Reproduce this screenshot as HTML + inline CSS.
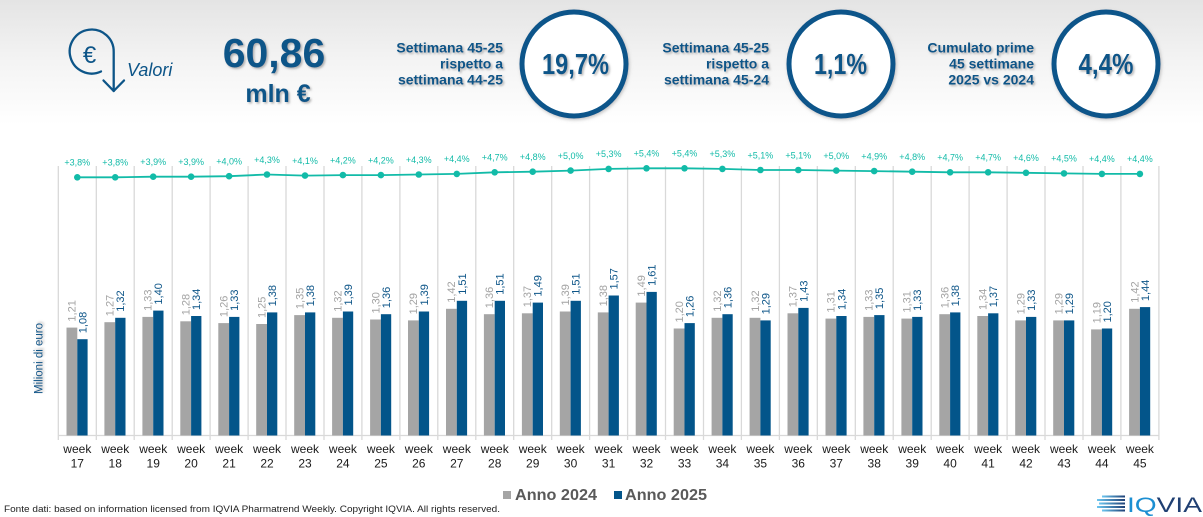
<!DOCTYPE html>
<html><head><meta charset="utf-8"><style>
html,body{margin:0;padding:0;background:#fff;}
svg{display:block;}
text{font-family:"Liberation Sans",Arial,sans-serif;}
.pc{font-size:9px;fill:#12bba8;text-anchor:middle;}
.wk{font-size:12px;fill:#1a1a1a;text-anchor:middle;}
.lg{font-size:11px;fill:#a3a3a3;}
.lb{font-size:11px;fill:#0d5588;}
.g{fill:#a5a5a5;}
.b{fill:#03558a;}
.hd{font-size:14px;font-weight:bold;fill:#0d5588;text-anchor:end;}
.big{font-weight:bold;fill:#0d5588;text-anchor:middle;}
</style></head><body>
<svg width="1203" height="517" viewBox="0 0 1203 517" xmlns="http://www.w3.org/2000/svg">
<defs>
<linearGradient id="bg" x1="0" y1="0" x2="0" y2="1">
<stop offset="0" stop-color="#e4e4e4"/><stop offset="0.5" stop-color="#f4f4f4"/><stop offset="1" stop-color="#ffffff"/>
</linearGradient>
<linearGradient id="lg1" x1="0" y1="0" x2="1" y2="0">
<stop offset="0" stop-color="#6cc6f0"/><stop offset="1" stop-color="#1d3f75"/>
</linearGradient>
<filter id="sh" x="-10%" y="-20%" width="130%" height="150%">
<feDropShadow dx="1.5" dy="1.5" stdDeviation="1" flood-color="#777" flood-opacity="0.55"/>
</filter>
<filter id="csh" x="-10%" y="-10%" width="130%" height="130%">
<feDropShadow dx="1" dy="1.5" stdDeviation="1.5" flood-color="#888" flood-opacity="0.5"/>
</filter>
</defs>
<rect x="0" y="0" width="1203" height="125" fill="url(#bg)"/>

<!-- Euro icon -->
<g fill="none" stroke="#0d5588" stroke-width="2.3" stroke-linecap="round" stroke-linejoin="round">
<path d="M113.7,91 L113.7,52 A22,22 0 1,0 101,71.5"/>
<path d="M103.5,80.5 L113.7,91 L124,80.5"/>
</g>
<text x="89.5" y="63" font-size="24" fill="#0d5588" text-anchor="middle">€</text>
<text x="127" y="76" font-size="18" font-style="italic" fill="#0d5588">Valori</text>

<!-- Big number -->
<g filter="url(#sh)">
<text class="big" x="274" y="67" font-size="41">60,86</text>
<text class="big" x="278" y="102" font-size="25">mln €</text>
</g>

<!-- Header blocks -->
<g filter="url(#sh)">
<text class="hd" x="503" y="52.5">Settimana 45-25</text>
<text class="hd" x="503" y="68.5">rispetto a</text>
<text class="hd" x="503" y="84.5">settimana 44-25</text>
<text class="hd" x="769" y="52.5">Settimana 45-25</text>
<text class="hd" x="769" y="68.5">rispetto a</text>
<text class="hd" x="769" y="84.5">settimana 45-24</text>
<text class="hd" x="1034" y="52.5">Cumulato prime</text>
<text class="hd" x="1034" y="68.5">45 settimane</text>
<text class="hd" x="1034" y="84.5">2025 vs 2024</text>
</g>

<!-- Circles -->
<g filter="url(#csh)" fill="#fff" stroke="#07548a" stroke-width="5">
<circle cx="574" cy="64" r="52"/>
<circle cx="841" cy="64" r="52"/>
<circle cx="1106" cy="64" r="52"/>
</g>
<g filter="url(#sh)">
<text class="big" x="575.5" y="74" font-size="29" textLength="67" lengthAdjust="spacingAndGlyphs">19,7%</text>
<text class="big" x="840.5" y="74" font-size="29" textLength="53" lengthAdjust="spacingAndGlyphs">1,1%</text>
<text class="big" x="1106" y="74" font-size="29" textLength="55" lengthAdjust="spacingAndGlyphs">4,4%</text>
</g>

<!-- Gridlines -->
<g stroke="#d9d9d9" stroke-width="1.3">
<line x1="58.3" y1="166" x2="58.3" y2="440"/>
<line x1="96.3" y1="166" x2="96.3" y2="440"/>
<line x1="134.2" y1="166" x2="134.2" y2="440"/>
<line x1="172.2" y1="166" x2="172.2" y2="440"/>
<line x1="210.1" y1="166" x2="210.1" y2="440"/>
<line x1="248.1" y1="166" x2="248.1" y2="440"/>
<line x1="286" y1="166" x2="286" y2="440"/>
<line x1="324" y1="166" x2="324" y2="440"/>
<line x1="361.9" y1="166" x2="361.9" y2="440"/>
<line x1="399.9" y1="166" x2="399.9" y2="440"/>
<line x1="437.8" y1="166" x2="437.8" y2="440"/>
<line x1="475.8" y1="166" x2="475.8" y2="440"/>
<line x1="513.7" y1="166" x2="513.7" y2="440"/>
<line x1="551.7" y1="166" x2="551.7" y2="440"/>
<line x1="589.6" y1="166" x2="589.6" y2="440"/>
<line x1="627.6" y1="166" x2="627.6" y2="440"/>
<line x1="665.5" y1="166" x2="665.5" y2="440"/>
<line x1="703.5" y1="166" x2="703.5" y2="440"/>
<line x1="741.4" y1="166" x2="741.4" y2="440"/>
<line x1="779.4" y1="166" x2="779.4" y2="440"/>
<line x1="817.3" y1="166" x2="817.3" y2="440"/>
<line x1="855.3" y1="166" x2="855.3" y2="440"/>
<line x1="893.2" y1="166" x2="893.2" y2="440"/>
<line x1="931.2" y1="166" x2="931.2" y2="440"/>
<line x1="969.1" y1="166" x2="969.1" y2="440"/>
<line x1="1007.1" y1="166" x2="1007.1" y2="440"/>
<line x1="1045" y1="166" x2="1045" y2="440"/>
<line x1="1083" y1="166" x2="1083" y2="440"/>
<line x1="1120.9" y1="166" x2="1120.9" y2="440"/>
<line x1="1158.9" y1="166" x2="1158.9" y2="440"/>
<line x1="58.3" y1="435.5" x2="1158.9" y2="435.5"/>
</g>

<!-- Line series -->
<polyline fill="none" stroke="#12bba8" stroke-width="1.8" points="77.3,177.3 115.2,177.3 153.2,176.7 191.1,176.7 229.1,176.2 267,174.5 305,175.6 342.9,175.1 380.9,175.1 418.8,174.5 456.8,173.9 494.7,172.3 532.7,171.7 570.6,170.6 608.6,168.9 646.5,168.3 684.5,168.3 722.4,168.9 760.4,170 798.3,170 836.3,170.6 874.2,171.1 912.2,171.7 950.1,172.3 988.1,172.3 1026,172.8 1064,173.4 1101.9,173.9 1139.9,173.9"/>

<!-- Y axis title -->
<text transform="translate(42.5,358.5) rotate(-90)" font-size="11.5" fill="#0d5588" text-anchor="middle" filter="url(#sh)">Milioni di euro</text>

<!-- Categories -->
<g transform="translate(77.3,0)">
<rect class="g" x="-10.8" y="327.6" width="10.8" height="107.9"/><rect class="b" x="0" y="339.2" width="10.3" height="96.3"/>
<text class="lg" transform="translate(-1.6,321.6) rotate(-90)">1,21</text><text class="lb" transform="translate(9,333.2) rotate(-90)">1,08</text>
<circle cx="0" cy="177.3" r="3.3" fill="#12bba8"/><text class="pc" x="0" y="165.6">+3,8%</text>
<text class="wk" x="0" y="453">week</text><text class="wk" x="0" y="467.5">17</text>
</g>
<g transform="translate(115.2,0)">
<rect class="g" x="-10.8" y="322.2" width="10.8" height="113.3"/><rect class="b" x="0" y="317.8" width="10.3" height="117.7"/>
<text class="lg" transform="translate(-1.6,316.2) rotate(-90)">1,27</text><text class="lb" transform="translate(9,311.8) rotate(-90)">1,32</text>
<circle cx="0" cy="177.3" r="3.3" fill="#12bba8"/><text class="pc" x="0" y="165.6">+3,8%</text>
<text class="wk" x="0" y="453">week</text><text class="wk" x="0" y="467.5">18</text>
</g>
<g transform="translate(153.2,0)">
<rect class="g" x="-10.8" y="316.9" width="10.8" height="118.6"/><rect class="b" x="0" y="310.6" width="10.3" height="124.9"/>
<text class="lg" transform="translate(-1.6,310.9) rotate(-90)">1,33</text><text class="lb" transform="translate(9,304.6) rotate(-90)">1,40</text>
<circle cx="0" cy="176.7" r="3.3" fill="#12bba8"/><text class="pc" x="0" y="165">+3,9%</text>
<text class="wk" x="0" y="453">week</text><text class="wk" x="0" y="467.5">19</text>
</g>
<g transform="translate(191.1,0)">
<rect class="g" x="-10.8" y="321.3" width="10.8" height="114.2"/><rect class="b" x="0" y="316" width="10.3" height="119.5"/>
<text class="lg" transform="translate(-1.6,315.3) rotate(-90)">1,28</text><text class="lb" transform="translate(9,310) rotate(-90)">1,34</text>
<circle cx="0" cy="176.7" r="3.3" fill="#12bba8"/><text class="pc" x="0" y="165">+3,9%</text>
<text class="wk" x="0" y="453">week</text><text class="wk" x="0" y="467.5">20</text>
</g>
<g transform="translate(229.1,0)">
<rect class="g" x="-10.8" y="323.1" width="10.8" height="112.4"/><rect class="b" x="0" y="316.9" width="10.3" height="118.6"/>
<text class="lg" transform="translate(-1.6,317.1) rotate(-90)">1,26</text><text class="lb" transform="translate(9,310.9) rotate(-90)">1,33</text>
<circle cx="0" cy="176.2" r="3.3" fill="#12bba8"/><text class="pc" x="0" y="164.5">+4,0%</text>
<text class="wk" x="0" y="453">week</text><text class="wk" x="0" y="467.5">21</text>
</g>
<g transform="translate(267,0)">
<rect class="g" x="-10.8" y="324" width="10.8" height="111.5"/><rect class="b" x="0" y="312.4" width="10.3" height="123.1"/>
<text class="lg" transform="translate(-1.6,318) rotate(-90)">1,25</text><text class="lb" transform="translate(9,306.4) rotate(-90)">1,38</text>
<circle cx="0" cy="174.5" r="3.3" fill="#12bba8"/><text class="pc" x="0" y="162.8">+4,3%</text>
<text class="wk" x="0" y="453">week</text><text class="wk" x="0" y="467.5">22</text>
</g>
<g transform="translate(305,0)">
<rect class="g" x="-10.8" y="315.1" width="10.8" height="120.4"/><rect class="b" x="0" y="312.4" width="10.3" height="123.1"/>
<text class="lg" transform="translate(-1.6,309.1) rotate(-90)">1,35</text><text class="lb" transform="translate(9,306.4) rotate(-90)">1,38</text>
<circle cx="0" cy="175.6" r="3.3" fill="#12bba8"/><text class="pc" x="0" y="163.9">+4,1%</text>
<text class="wk" x="0" y="453">week</text><text class="wk" x="0" y="467.5">23</text>
</g>
<g transform="translate(342.9,0)">
<rect class="g" x="-10.8" y="317.8" width="10.8" height="117.7"/><rect class="b" x="0" y="311.5" width="10.3" height="124"/>
<text class="lg" transform="translate(-1.6,311.8) rotate(-90)">1,32</text><text class="lb" transform="translate(9,305.5) rotate(-90)">1,39</text>
<circle cx="0" cy="175.1" r="3.3" fill="#12bba8"/><text class="pc" x="0" y="163.4">+4,2%</text>
<text class="wk" x="0" y="453">week</text><text class="wk" x="0" y="467.5">24</text>
</g>
<g transform="translate(380.9,0)">
<rect class="g" x="-10.8" y="319.5" width="10.8" height="116"/><rect class="b" x="0" y="314.2" width="10.3" height="121.3"/>
<text class="lg" transform="translate(-1.6,313.5) rotate(-90)">1,30</text><text class="lb" transform="translate(9,308.2) rotate(-90)">1,36</text>
<circle cx="0" cy="175.1" r="3.3" fill="#12bba8"/><text class="pc" x="0" y="163.4">+4,2%</text>
<text class="wk" x="0" y="453">week</text><text class="wk" x="0" y="467.5">25</text>
</g>
<g transform="translate(418.8,0)">
<rect class="g" x="-10.8" y="320.4" width="10.8" height="115.1"/><rect class="b" x="0" y="311.5" width="10.3" height="124"/>
<text class="lg" transform="translate(-1.6,314.4) rotate(-90)">1,29</text><text class="lb" transform="translate(9,305.5) rotate(-90)">1,39</text>
<circle cx="0" cy="174.5" r="3.3" fill="#12bba8"/><text class="pc" x="0" y="162.8">+4,3%</text>
<text class="wk" x="0" y="453">week</text><text class="wk" x="0" y="467.5">26</text>
</g>
<g transform="translate(456.8,0)">
<rect class="g" x="-10.8" y="308.8" width="10.8" height="126.7"/><rect class="b" x="0" y="300.8" width="10.3" height="134.7"/>
<text class="lg" transform="translate(-1.6,302.8) rotate(-90)">1,42</text><text class="lb" transform="translate(9,294.8) rotate(-90)">1,51</text>
<circle cx="0" cy="173.9" r="3.3" fill="#12bba8"/><text class="pc" x="0" y="162.2">+4,4%</text>
<text class="wk" x="0" y="453">week</text><text class="wk" x="0" y="467.5">27</text>
</g>
<g transform="translate(494.7,0)">
<rect class="g" x="-10.8" y="314.2" width="10.8" height="121.3"/><rect class="b" x="0" y="300.8" width="10.3" height="134.7"/>
<text class="lg" transform="translate(-1.6,308.2) rotate(-90)">1,36</text><text class="lb" transform="translate(9,294.8) rotate(-90)">1,51</text>
<circle cx="0" cy="172.3" r="3.3" fill="#12bba8"/><text class="pc" x="0" y="160.6">+4,7%</text>
<text class="wk" x="0" y="453">week</text><text class="wk" x="0" y="467.5">28</text>
</g>
<g transform="translate(532.7,0)">
<rect class="g" x="-10.8" y="313.3" width="10.8" height="122.2"/><rect class="b" x="0" y="302.6" width="10.3" height="132.9"/>
<text class="lg" transform="translate(-1.6,307.3) rotate(-90)">1,37</text><text class="lb" transform="translate(9,296.6) rotate(-90)">1,49</text>
<circle cx="0" cy="171.7" r="3.3" fill="#12bba8"/><text class="pc" x="0" y="160">+4,8%</text>
<text class="wk" x="0" y="453">week</text><text class="wk" x="0" y="467.5">29</text>
</g>
<g transform="translate(570.6,0)">
<rect class="g" x="-10.8" y="311.5" width="10.8" height="124"/><rect class="b" x="0" y="300.8" width="10.3" height="134.7"/>
<text class="lg" transform="translate(-1.6,305.5) rotate(-90)">1,39</text><text class="lb" transform="translate(9,294.8) rotate(-90)">1,51</text>
<circle cx="0" cy="170.6" r="3.3" fill="#12bba8"/><text class="pc" x="0" y="158.9">+5,0%</text>
<text class="wk" x="0" y="453">week</text><text class="wk" x="0" y="467.5">30</text>
</g>
<g transform="translate(608.6,0)">
<rect class="g" x="-10.8" y="312.4" width="10.8" height="123.1"/><rect class="b" x="0" y="295.5" width="10.3" height="140"/>
<text class="lg" transform="translate(-1.6,306.4) rotate(-90)">1,38</text><text class="lb" transform="translate(9,289.5) rotate(-90)">1,57</text>
<circle cx="0" cy="168.9" r="3.3" fill="#12bba8"/><text class="pc" x="0" y="157.2">+5,3%</text>
<text class="wk" x="0" y="453">week</text><text class="wk" x="0" y="467.5">31</text>
</g>
<g transform="translate(646.5,0)">
<rect class="g" x="-10.8" y="302.6" width="10.8" height="132.9"/><rect class="b" x="0" y="291.9" width="10.3" height="143.6"/>
<text class="lg" transform="translate(-1.6,296.6) rotate(-90)">1,49</text><text class="lb" transform="translate(9,285.9) rotate(-90)">1,61</text>
<circle cx="0" cy="168.3" r="3.3" fill="#12bba8"/><text class="pc" x="0" y="156.6">+5,4%</text>
<text class="wk" x="0" y="453">week</text><text class="wk" x="0" y="467.5">32</text>
</g>
<g transform="translate(684.5,0)">
<rect class="g" x="-10.8" y="328.5" width="10.8" height="107"/><rect class="b" x="0" y="323.1" width="10.3" height="112.4"/>
<text class="lg" transform="translate(-1.6,322.5) rotate(-90)">1,20</text><text class="lb" transform="translate(9,317.1) rotate(-90)">1,26</text>
<circle cx="0" cy="168.3" r="3.3" fill="#12bba8"/><text class="pc" x="0" y="156.6">+5,4%</text>
<text class="wk" x="0" y="453">week</text><text class="wk" x="0" y="467.5">33</text>
</g>
<g transform="translate(722.4,0)">
<rect class="g" x="-10.8" y="317.8" width="10.8" height="117.7"/><rect class="b" x="0" y="314.2" width="10.3" height="121.3"/>
<text class="lg" transform="translate(-1.6,311.8) rotate(-90)">1,32</text><text class="lb" transform="translate(9,308.2) rotate(-90)">1,36</text>
<circle cx="0" cy="168.9" r="3.3" fill="#12bba8"/><text class="pc" x="0" y="157.2">+5,3%</text>
<text class="wk" x="0" y="453">week</text><text class="wk" x="0" y="467.5">34</text>
</g>
<g transform="translate(760.4,0)">
<rect class="g" x="-10.8" y="317.8" width="10.8" height="117.7"/><rect class="b" x="0" y="320.4" width="10.3" height="115.1"/>
<text class="lg" transform="translate(-1.6,311.8) rotate(-90)">1,32</text><text class="lb" transform="translate(9,314.4) rotate(-90)">1,29</text>
<circle cx="0" cy="170" r="3.3" fill="#12bba8"/><text class="pc" x="0" y="158.3">+5,1%</text>
<text class="wk" x="0" y="453">week</text><text class="wk" x="0" y="467.5">35</text>
</g>
<g transform="translate(798.3,0)">
<rect class="g" x="-10.8" y="313.3" width="10.8" height="122.2"/><rect class="b" x="0" y="307.9" width="10.3" height="127.6"/>
<text class="lg" transform="translate(-1.6,307.3) rotate(-90)">1,37</text><text class="lb" transform="translate(9,301.9) rotate(-90)">1,43</text>
<circle cx="0" cy="170" r="3.3" fill="#12bba8"/><text class="pc" x="0" y="158.3">+5,1%</text>
<text class="wk" x="0" y="453">week</text><text class="wk" x="0" y="467.5">36</text>
</g>
<g transform="translate(836.3,0)">
<rect class="g" x="-10.8" y="318.6" width="10.8" height="116.9"/><rect class="b" x="0" y="316" width="10.3" height="119.5"/>
<text class="lg" transform="translate(-1.6,312.6) rotate(-90)">1,31</text><text class="lb" transform="translate(9,310) rotate(-90)">1,34</text>
<circle cx="0" cy="170.6" r="3.3" fill="#12bba8"/><text class="pc" x="0" y="158.9">+5,0%</text>
<text class="wk" x="0" y="453">week</text><text class="wk" x="0" y="467.5">37</text>
</g>
<g transform="translate(874.2,0)">
<rect class="g" x="-10.8" y="316.9" width="10.8" height="118.6"/><rect class="b" x="0" y="315.1" width="10.3" height="120.4"/>
<text class="lg" transform="translate(-1.6,310.9) rotate(-90)">1,33</text><text class="lb" transform="translate(9,309.1) rotate(-90)">1,35</text>
<circle cx="0" cy="171.1" r="3.3" fill="#12bba8"/><text class="pc" x="0" y="159.4">+4,9%</text>
<text class="wk" x="0" y="453">week</text><text class="wk" x="0" y="467.5">38</text>
</g>
<g transform="translate(912.2,0)">
<rect class="g" x="-10.8" y="318.6" width="10.8" height="116.9"/><rect class="b" x="0" y="316.9" width="10.3" height="118.6"/>
<text class="lg" transform="translate(-1.6,312.6) rotate(-90)">1,31</text><text class="lb" transform="translate(9,310.9) rotate(-90)">1,33</text>
<circle cx="0" cy="171.7" r="3.3" fill="#12bba8"/><text class="pc" x="0" y="160">+4,8%</text>
<text class="wk" x="0" y="453">week</text><text class="wk" x="0" y="467.5">39</text>
</g>
<g transform="translate(950.1,0)">
<rect class="g" x="-10.8" y="314.2" width="10.8" height="121.3"/><rect class="b" x="0" y="312.4" width="10.3" height="123.1"/>
<text class="lg" transform="translate(-1.6,308.2) rotate(-90)">1,36</text><text class="lb" transform="translate(9,306.4) rotate(-90)">1,38</text>
<circle cx="0" cy="172.3" r="3.3" fill="#12bba8"/><text class="pc" x="0" y="160.6">+4,7%</text>
<text class="wk" x="0" y="453">week</text><text class="wk" x="0" y="467.5">40</text>
</g>
<g transform="translate(988.1,0)">
<rect class="g" x="-10.8" y="316" width="10.8" height="119.5"/><rect class="b" x="0" y="313.3" width="10.3" height="122.2"/>
<text class="lg" transform="translate(-1.6,310) rotate(-90)">1,34</text><text class="lb" transform="translate(9,307.3) rotate(-90)">1,37</text>
<circle cx="0" cy="172.3" r="3.3" fill="#12bba8"/><text class="pc" x="0" y="160.6">+4,7%</text>
<text class="wk" x="0" y="453">week</text><text class="wk" x="0" y="467.5">41</text>
</g>
<g transform="translate(1026,0)">
<rect class="g" x="-10.8" y="320.4" width="10.8" height="115.1"/><rect class="b" x="0" y="316.9" width="10.3" height="118.6"/>
<text class="lg" transform="translate(-1.6,314.4) rotate(-90)">1,29</text><text class="lb" transform="translate(9,310.9) rotate(-90)">1,33</text>
<circle cx="0" cy="172.8" r="3.3" fill="#12bba8"/><text class="pc" x="0" y="161.1">+4,6%</text>
<text class="wk" x="0" y="453">week</text><text class="wk" x="0" y="467.5">42</text>
</g>
<g transform="translate(1064,0)">
<rect class="g" x="-10.8" y="320.4" width="10.8" height="115.1"/><rect class="b" x="0" y="320.4" width="10.3" height="115.1"/>
<text class="lg" transform="translate(-1.6,314.4) rotate(-90)">1,29</text><text class="lb" transform="translate(9,314.4) rotate(-90)">1,29</text>
<circle cx="0" cy="173.4" r="3.3" fill="#12bba8"/><text class="pc" x="0" y="161.7">+4,5%</text>
<text class="wk" x="0" y="453">week</text><text class="wk" x="0" y="467.5">43</text>
</g>
<g transform="translate(1101.9,0)">
<rect class="g" x="-10.8" y="329.4" width="10.8" height="106.1"/><rect class="b" x="0" y="328.5" width="10.3" height="107"/>
<text class="lg" transform="translate(-1.6,323.4) rotate(-90)">1,19</text><text class="lb" transform="translate(9,322.5) rotate(-90)">1,20</text>
<circle cx="0" cy="173.9" r="3.3" fill="#12bba8"/><text class="pc" x="0" y="162.2">+4,4%</text>
<text class="wk" x="0" y="453">week</text><text class="wk" x="0" y="467.5">44</text>
</g>
<g transform="translate(1139.9,0)">
<rect class="g" x="-10.8" y="308.8" width="10.8" height="126.7"/><rect class="b" x="0" y="307.1" width="10.3" height="128.4"/>
<text class="lg" transform="translate(-1.6,302.8) rotate(-90)">1,42</text><text class="lb" transform="translate(9,301.1) rotate(-90)">1,44</text>
<circle cx="0" cy="173.9" r="3.3" fill="#12bba8"/><text class="pc" x="0" y="162.2">+4,4%</text>
<text class="wk" x="0" y="453">week</text><text class="wk" x="0" y="467.5">45</text>
</g>

<!-- Legend -->
<rect x="503" y="491" width="8" height="8" fill="#a5a5a5"/>
<text x="515" y="500" font-size="16" font-weight="bold" fill="#595959" textLength="82" lengthAdjust="spacingAndGlyphs">Anno 2024</text>
<rect x="614" y="491" width="8" height="8" fill="#03558a"/>
<text x="625" y="500" font-size="16" font-weight="bold" fill="#595959" textLength="82" lengthAdjust="spacingAndGlyphs">Anno 2025</text>

<!-- Footer -->
<text x="4" y="512" font-size="9" fill="#222" textLength="496" lengthAdjust="spacingAndGlyphs">Fonte dati: based on information licensed from IQVIA Pharmatrend Weekly. Copyright IQVIA. All rights reserved.</text>

<!-- IQVIA logo -->
<g fill="url(#lg1)">
<rect x="1102" y="495.5" width="23" height="2"/>
<rect x="1097" y="499" width="28" height="2"/>
<rect x="1099" y="502.5" width="26" height="2"/>
<rect x="1097" y="506" width="28" height="2"/>
<rect x="1102" y="509.5" width="23" height="2"/>
</g>
<text x="1127" y="512" font-size="21" textLength="75" lengthAdjust="spacingAndGlyphs"><tspan fill="#1c8fd2">IQ</tspan><tspan fill="#1f3f72">VIA</tspan></text>
</svg>
</body></html>
